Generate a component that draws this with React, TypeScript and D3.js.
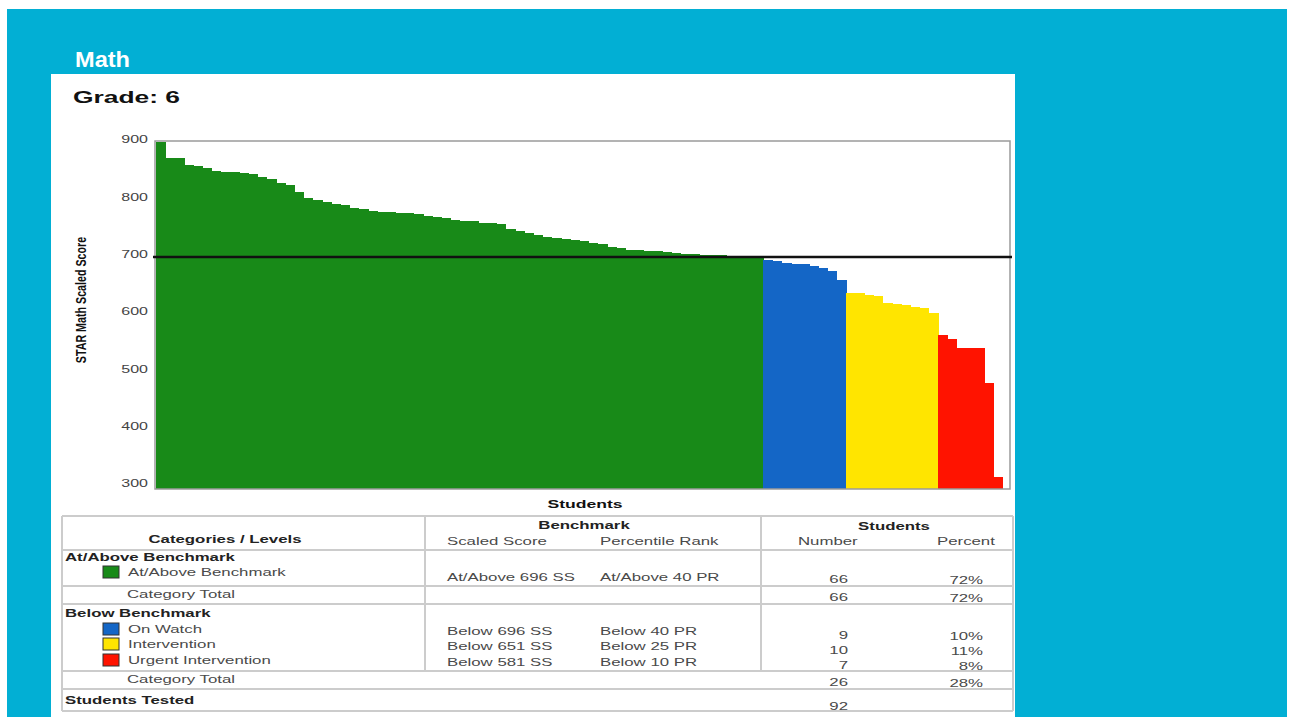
import React from "react";
import * as d3 from "d3";

// ---------- data ----------
const atAboveScores = [896, 868, 868, 856, 855, 851, 846, 845, 844, 843, 840, 836, 832, 825, 822, 810, 799, 796, 792, 789, 786, 782, 779, 777, 775, 774, 773, 772, 771, 767, 766, 764, 760, 759, 758, 756, 755, 753, 745, 741, 738, 735, 731, 729, 727, 725, 723, 721, 719, 714, 712, 709, 708, 707, 706, 705, 703, 702, 701, 700, 700, 699, 698, 697, 697, 696];
const onWatchScores = [690, 689, 685, 684, 683, 680, 677, 671, 656];
const interventionScores = [634, 633, 629, 628, 615, 614, 613, 609, 607, 598];
const urgentScores = [560, 553, 538, 537, 537, 476, 312];

const yTicks = [300, 400, 500, 600, 700, 800, 900];
const benchmark = 696;

const levelNames = ["At/Above Benchmark", "On Watch", "Intervention", "Urgent Intervention"];
const levelColors = ["#188a18", "#1466c6", "#ffe500", "#ff1300"];
const scaledScoreText = ["At/Above 696 SS", "Below 696 SS", "Below 651 SS", "Below 581 SS"];
const percentileText = ["At/Above 40 PR", "Below 40 PR", "Below 25 PR", "Below 10 PR"];
const studentCounts = [66, 9, 10, 7];
const studentPercents = ["72%", "10%", "11%", "8%"];
const categoryGroups = ["At/Above Benchmark", "Below Benchmark"];
const categoryTotalCounts = [66, 26];
const categoryTotalPercents = ["72%", "28%"];
const studentsTested = 92;

// ---------- helpers ----------
const FONT = "'Liberation Sans', Arial, sans-serif";
const SX = 1.6;

function T({ x, y, children, anchor = "start", size = 10.5, bold = false, fill = "#4a4a4a", sx = SX }: any) {
  return (
    <text
      transform={`translate(${x},${y}) scale(${sx},1)`}
      textAnchor={anchor}
      dominantBaseline="central"
      fontFamily={FONT}
      fontSize={size}
      fontWeight={bold ? "bold" : "normal"}
      fill={fill}
    >
      {children}
    </text>
  );
}

export default function App() {
  const groups = [atAboveScores, onWatchScores, interventionScores, urgentScores];
  const bars = groups.flatMap((g, gi) => g.map((v) => ({ v, color: levelColors[gi] })));

  const x = d3.scaleBand<number>().domain(d3.range(bars.length)).range([156, 1002]).padding(0);
  const y = d3.scaleLinear().domain([300, 900]).range([484, 140]);
  const plotBottom = 489;
  const frame = { l: 155, r: 1010, t: 141, b: 489 };

  const lineColor = "#cccccc";
  const levelLeftY = [572, 629, 644, 660];
  const benchY = [577, 631, 646, 662];
  const numY = [579, 635, 650, 665];

  return (
    <div style={{ position: "absolute", left: 0, top: 0 }}>
      <svg width={1292} height={717} style={{ display: "block" }}>
        <rect x={0} y={0} width={1292} height={717} fill="#ffffff" />
        <rect x={7} y={9} width={1280} height={708} fill="#02afd4" />
        <text x={75} y={59} dominantBaseline="central" fontFamily={FONT} fontSize={22} fontWeight="bold" fill="#ffffff" textLength={55} lengthAdjust="spacingAndGlyphs">
          Math
        </text>
        <rect x={51} y={74} width={964} height={643} fill="#ffffff" />
        <T x={73} y={97} size={16.5} bold fill="#111">Grade: 6</T>

        {/* bars */}
        <g shapeRendering="crispEdges">
          {bars.map((b, i) => (
            <rect
              key={i}
              x={x(i)!}
              y={y(b.v)}
              width={x.bandwidth() + 1}
              height={plotBottom - y(b.v)}
              fill={b.color}
            />
          ))}
        </g>

        {/* frame */}
        <rect x={frame.l} y={frame.t} width={frame.r - frame.l} height={frame.b - frame.t} fill="none" stroke="#9a9a9a" strokeWidth={1.5} />
        {/* benchmark line */}
        <line x1={153} x2={1012} y1={y(benchmark)} y2={y(benchmark)} stroke="#111" strokeWidth={2.5} />

        {/* y ticks */}
        {yTicks.map((t) => (
          <T key={t} x={148} y={y(t)} anchor="end" size={10} fill="#444">
            {t}
          </T>
        ))}
        <text
          transform={`translate(81,300) rotate(-90) scale(1,1.4)`}
          textAnchor="middle"
          dominantBaseline="central"
          fontFamily={FONT}
          fontSize={10.7}
          fontWeight="bold"
          fill="#111"
        >
          STAR Math Scaled Score
        </text>
        <T x={585} y={504} anchor="middle" bold size={11} fill="#111">Students</T>

        {/* table lines */}
        {[516, 550, 586, 604, 671, 689, 711].map((ly) => (
          <line key={ly} x1={62} x2={1013} y1={ly} y2={ly} stroke={lineColor} strokeWidth={2} />
        ))}
        <line x1={62} x2={62} y1={516} y2={711} stroke={lineColor} strokeWidth={2} />
        <line x1={1013} x2={1013} y1={516} y2={711} stroke={lineColor} strokeWidth={2} />
        <line x1={425} x2={425} y1={516} y2={671} stroke={lineColor} strokeWidth={2} />
        <line x1={761} x2={761} y1={516} y2={671} stroke={lineColor} strokeWidth={2} />

        {/* table header */}
        <T x={225} y={539} anchor="middle" bold fill="#222">Categories / Levels</T>
        <T x={584} y={525} anchor="middle" bold fill="#222">Benchmark</T>
        <T x={447} y={541}>Scaled Score</T>
        <T x={600} y={541}>Percentile Rank</T>
        <T x={894} y={526} anchor="middle" bold fill="#222">Students</T>
        <T x={798} y={541}>Number</T>
        <T x={937} y={541}>Percent</T>

        {/* group headings */}
        <T x={65} y={557} bold fill="#222">{categoryGroups[0]}</T>
        <T x={65} y={613} bold fill="#222">{categoryGroups[1]}</T>

        {/* level rows */}
        {levelNames.map((name, i) => (
          <g key={name}>
            <rect x={103} y={levelLeftY[i] - 6} width={16} height={12} fill={levelColors[i]} stroke="#333" strokeWidth={1} />
            <T x={128} y={levelLeftY[i]}>{name}</T>
            <T x={447} y={benchY[i]}>{scaledScoreText[i]}</T>
            <T x={600} y={benchY[i]}>{percentileText[i]}</T>
            <T x={848} y={numY[i]} anchor="end">{studentCounts[i]}</T>
            <T x={983} y={numY[i] + 1} anchor="end">{studentPercents[i]}</T>
          </g>
        ))}

        {/* category totals */}
        {[594, 679].map((ty, i) => (
          <g key={ty}>
            <T x={127} y={ty}>Category Total</T>
            <T x={848} y={ty + 3} anchor="end">{categoryTotalCounts[i]}</T>
            <T x={983} y={ty + 4} anchor="end">{categoryTotalPercents[i]}</T>
          </g>
        ))}

        <T x={65} y={700} bold fill="#222">Students Tested</T>
        <T x={848} y={706} anchor="end">{studentsTested}</T>
      </svg>
    </div>
  );
}
